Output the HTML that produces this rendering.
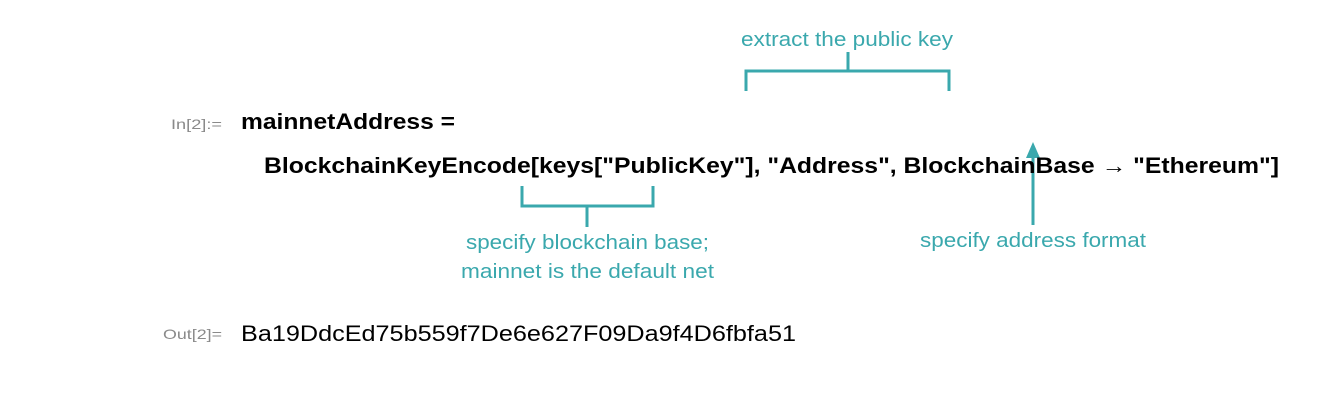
<!DOCTYPE html>
<html><head><meta charset="utf-8"><style>
html,body{margin:0;padding:0;background:#fff;width:1340px;height:404px;overflow:hidden}
svg{display:block}
text{font-family:"Liberation Sans",sans-serif}
.t{fill:#3aa8ad;font-size:20px}
.b{font-weight:bold;font-size:22px;fill:#000}
.g{fill:#8a8a8a;font-size:14px}
</style></head><body>
<svg width="1340" height="404" xmlns="http://www.w3.org/2000/svg">
<text class="t" x="741" y="46" textLength="212" lengthAdjust="spacingAndGlyphs">extract the public key</text>
<g stroke="#3aa8ad" stroke-width="3" fill="none">
<polyline points="746,91 746,71 949,71 949,91"/>
<line x1="848" y1="52" x2="848" y2="71"/>
<polyline points="522,186 522,206 653,206 653,186"/>
<line x1="587" y1="206" x2="587" y2="227"/>
<line x1="1033" y1="225" x2="1033" y2="155"/>
</g>
<polygon points="1033,142 1026,158 1040,158" fill="#3aa8ad"/>
<text class="g" x="171" y="129" textLength="51" lengthAdjust="spacingAndGlyphs">In[2]:=</text>
<text class="b" x="241" y="129" textLength="214" lengthAdjust="spacingAndGlyphs">mainnetAddress =</text>
<text class="b" x="264" y="173" textLength="1015" lengthAdjust="spacingAndGlyphs">BlockchainKeyEncode[keys["PublicKey"], "Address", BlockchainBase → "Ethereum"]</text>
<text class="t" x="466" y="249" textLength="243" lengthAdjust="spacingAndGlyphs">specify blockchain base;</text>
<text class="t" x="461" y="278" textLength="253" lengthAdjust="spacingAndGlyphs">mainnet is the default net</text>
<text class="t" x="920" y="247" textLength="226" lengthAdjust="spacingAndGlyphs">specify address format</text>
<text class="g" x="163" y="339" textLength="59" lengthAdjust="spacingAndGlyphs">Out[2]=</text>
<text x="241" y="341" font-size="22" fill="#000" textLength="555" lengthAdjust="spacingAndGlyphs">Ba19DdcEd75b559f7De6e627F09Da9f4D6fbfa51</text>
</svg>
</body></html>
